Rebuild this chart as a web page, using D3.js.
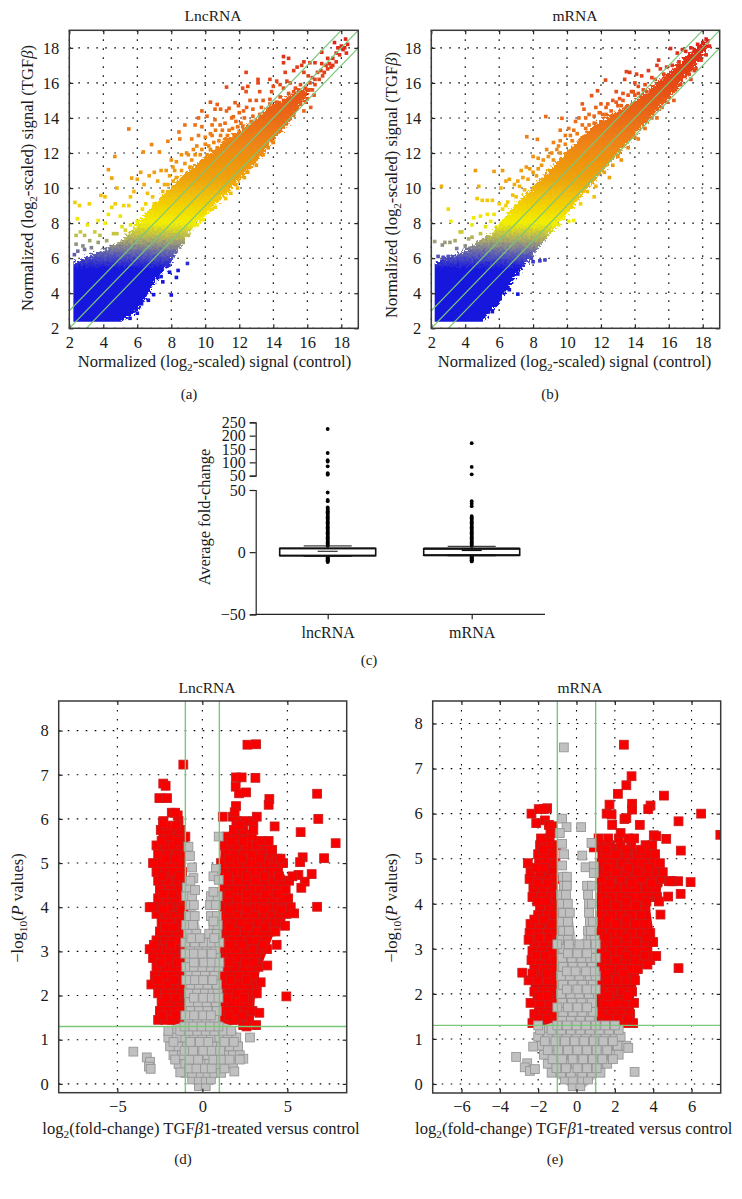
<!DOCTYPE html>
<html><head><meta charset="utf-8">
<script src="https://cdn.jsdelivr.net/npm/d3@7/dist/d3.min.js"></script>
<style>
html,body{margin:0;padding:0;background:#fff}
svg{display:block}
text{font-family:"Liberation Serif",serif;fill:#1a1a1a}
</style></head><body><svg id="c" width="742" height="1199"></svg>
<script>
// ---------- scatter (a) LncRNA ----------
const ticksScatter = [2,4,6,8,10,12,14,16,18];
const colorDomain = [2,5.4,6.2,7,8,9,10.5,13,15,18];
const colorRange = ["#1414dc","#1616dc","#5a5ab6","#a6a66c","#f2f000","#f2d204","#eea40e","#ee7c14","#e85a18","#e02818"];
const lncCloudMin = [2.24,2.38];
const mrnaCloudMin = [2.2,2.38];
const lncCloud = [[2,5.7],[2.6,5.9],[3,6.1],[4,6.5],[5,7],[5.6,7.5],[6,8],[6.5,8.6],[7,9.1],[8,10.1],[8.5,10.6],[9,11],[10,11.8],[11,12.6],[12,13.3],[13,14],[14,14.8],[15,15.3],[15.8,15.6],[16.1,15.8],[16.1,15.4],[15.5,14.6],[15,13.8],[14,12.7],[13,11.5],[12,10.4],[11,9.4],[10,8.4],[9,7.4],[8.5,6.6],[8,5.8],[7.4,5.1],[7,4.6],[6.5,3.7],[6,3],[5.5,2.7],[5,2.3],[4.8,2.1],[2,2.1]];
const lncSparse = [[2.33,9.18],[2.6,9.0],[3.18,9.1],[2.47,8.25],[3.06,7.9],[3.7,8.15],[3.86,9.58],[4.1,9.5],[4.5,10.57],[4.3,11.05],[4.68,11.8],[5.5,13.37],[4.8,10.0],[5.67,10.57],[6.84,12.48],[6.35,12.06],[7.3,12.06],[7.8,12.67],[8.8,13.6],[8.45,13.2],[2.4,7.3],[2.65,7.5],[2.9,7.3],[2.4,6.8],[2.8,6.7],[3.2,7.0],[3.5,7.5],[3.8,7.3],[4.1,8.0],[4.3,8.5],[4.5,8.9],[4.7,9.1],[5,8.4],[5.1,7.8],[4.6,7.4],[5.2,9],[5.5,9],[5.6,9.5],[5.8,9.8],[6,10.5],[6.2,10.9],[6.4,10.2],[6.7,10.7],[7,10.9],[7.2,10.4],[6.6,9.7],[6.9,9.5],[7.4,11],[7.7,11],[8,11.6],[8.3,11.5],[8.6,11.9],[8.2,11],[8.5,12.8],[9,11.9],[9.3,12.2],[9.2,12.8],[9.6,13],[9.8,13.5],[9.4,13.6],[10,12.9],[10.3,13.1],[10.6,13.3],[10.2,12.4],[10.8,12.7],[11,13.3],[11.3,13],[11.1,12.6],[11.6,13.4],[11.9,13.5],[12.1,13.7],[9.6,14],[9.8,14.4],[10.1,14.1],[10.3,14.9],[10.7,14.77],[10.57,14.5],[10.9,14.5],[11.4,14.55],[11.75,14.87],[11.95,14.7],[12.25,14.4],[12.63,15],[13,15],[13.4,15],[13.8,15.06],[12.43,14.6],[12.8,14.5],[12,14.3],[11.55,14],[11.25,14.4],[10.57,13.9],[11.16,13.7],[11.65,14.07],[10.87,13.6],[10.4,13.6],[12.4,16.6],[11.25,15.76],[12.2,15.7],[12.5,15.8],[12.4,15.5],[13.1,16.2],[13.1,16],[13.8,16.2],[14.2,16.1],[14.4,15.9],[14,15.8],[13.9,15.5],[13.2,15.5],[14.8,16.1],[14.6,15.7],[15,16],[15.3,15.7],[15.8,16.6],[16.06,16.4],[16.45,16.2],[16.45,15.9],[16.16,16],[15.6,15.9],[14.6,17.5],[14.9,17.4],[14.6,17.15],[14.7,16.6],[15.2,16.7],[15.4,16.9],[15.67,17],[15.8,17.2],[16.15,17.15],[16.45,17.15],[16.8,16.7],[17,16.6],[16.85,17.1],[17.1,17],[17.2,17.4],[17.5,17.4],[17.7,17.7],[16.85,17.75],[17.6,18.3],[17.8,18],[18,18.1],[18.25,18.5],[18.37,18.2],[18.1,17.9],[17.4,16.9],[17.7,17.2],[17.2,16.8],[16.3,15.6],[16,15.1],[15.9,14.9],[15.6,14.8],[16.4,15.3],[15.2,14.2],[14.5,13.5],[14,12.6],[14,12.9],[13.5,12.5],[13.4,11.9],[13,11.3],[12.6,11.2],[12.3,10.6],[11.8,10.2],[11.5,9.7],[10.8,9.4],[10.4,8.8],[9.9,8.2],[9.5,7.9],[9,7.3],[8.7,6.9],[8.3,6.6],[8.95,5.7],[8,3.9],[8.3,4.9],[8.4,5.3],[7.5,4.65],[7.2,4.9],[7.4,4.95],[6.75,4.57],[6.96,3.92],[6.25,3.4],[6.65,3.6],[5.57,2.57],[6,2.86],[6.37,3.9],[7.85,5.6],[7.9,5.2],[7.7,5.7],[6.85,5.3],[5.9,3.4],[5.3,2.9],[5.7,3.0],[2.3,6.2],[2.5,6.4],[2.9,6.5],[3.3,6.6],[3.7,6.9],[4.2,7.0],[4.8,7.4],[5.3,7.6],[5.6,7.9],[6,8.1],[6.3,8.8],[6.5,9.1],[7,9.1],[7.5,9.8],[7.8,10.2],[8.1,10.4],
[7.6,10.2],[7.9,10.7],[8.1,11.2],[8.3,10.6],[8.6,11],[8.8,11.4],[8.9,12.0],[9.1,11.2],[9.2,11.6],[9.4,11.9],[9.5,12.4],[9.7,11.9],[9.8,12.2],[10,12.5],[10.1,11.9],[10.3,12.2],[10.5,12.6],[10.4,13],[10.7,12.3],[10.9,13],[11,12.4],[11.2,12.8],[11.4,13.3],[11.5,12.7],[11.7,13],[11.8,13.8],[12,13.2],[12.2,13.5],[12.3,14],[12.5,13.4],[12.7,13.8],[12.8,14.1],[13,13.7],[13.2,14.2],[13.3,14.6],[13.5,14.1],[13.7,14.5],[13.8,14.8],[14,14.4],[14.2,14.9],[14.4,15.2],[14.6,15.0],[14.9,15.4],[15.2,15.5],[15.5,15.6],[8.4,10.3],[8.75,10.6],[9.3,10.9],[9.6,11.2],[10.2,11.6],[10.6,11.9],[11.2,12.3],[11.8,12.7],[12.4,13.2],[13.1,13.5],[13.6,13.9],[14.3,14.6],[15.1,14.8],[15.7,15.4],[16.2,14.6],[15.8,14.4],[15.3,14.5],[14.7,13.7],[14.3,13.2],[13.7,12.3],[13.1,11.9],[12.5,10.9],[11.9,10],[11.2,9.4],[10.6,8.9],[16.7,16.2],[16.3,16.3],[16.9,16.4],[17.3,17.1],[17.5,17],[17.9,17.6],[18.2,18],[18.3,17.7],[16.6,16.6],[16.1,15.6],[15.9,15.7]];
// ---------- scatter (b) mRNA ----------
const mrnaCloud = [[2,5.5],[2.5,5.9],[3.5,6.2],[4.5,6.8],[5.5,7.4],[6,8],[7,9.1],[8,10.1],[9,11.1],[10,12.1],[11,13.1],[12,13.9],[13,14.4],[14,15],[15,15.8],[16,16.6],[17,17.5],[18,18.3],[18.35,18.3],[18.3,18],[18,17.5],[17,16.3],[16,15.1],[15,14.1],[14,13],[13,11.9],[12,10.8],[11,9.7],[10,8.5],[9,7.4],[8.5,6.8],[8,6.2],[7,5],[6,3.5],[5,2.3],[4.8,2.1],[2,2.1]];
const mrnaSparse = [[2.6,10.1],[3,8.8],[3.15,8.1],[2.2,6.95],[2.8,6.9],[3.4,7.0],[3.1,6.9],[2.65,6.75],[3.7,7.5],[3.8,7.5],[4.4,7.2],[4.6,11.0],[4.8,10.1],[5.7,10.95],[6.2,11],[6.6,10.5],[5,9.3],[4.7,9.4],[5.3,9.3],[5.6,9.3],[6.1,10],[6.4,10.4],[6,9.1],[5.3,8.5],[4.9,8.4],[4.4,7.9],[4.5,8.3],[5.7,8.5],[6.9,10.2],[7.2,10.1],[7.8,11.1],[7.3,11],[7.6,11.2],[8,11.8],[8.3,11.7],[8.5,11.3],[7.63,12.93],[8.25,12.78],[8.75,14.08],[9.7,13.98],[9.2,12.6],[8.8,12.2],[9.5,12.4],[9.9,13],[10.1,13.4],[9.6,13.3],[10.5,13.8],[10.9,14.8],[11,14.5],[11.3,14.2],[10.7,14],[11.45,15.27],[11.8,15.55],[12.27,16.16],[11.7,14.6],[12,14.8],[12.3,14.6],[12.6,14.4],[12.9,14.9],[13.1,15.1],[12.9,15.5],[13.4,16.2],[13.5,16.64],[13.7,16.6],[14.1,16.5],[14.8,16.7],[15.4,17.3],[16.1,17.96],[15.3,17],[15.87,16.9],[14,16],[14.2,15.8],[14.6,15.9],[15,16.3],[15.5,16.8],[14.4,16.4],[13.8,15.5],[13.3,15.4],[16.5,17.7],[16.8,17.9],[17.3,18],[17.7,18.2],[18.2,18.5],[8.7,5.9],[8.4,5.85],[8,5.8],[7.9,6],[7.1,3.95],[6.4,4.3],[6.6,4.2],[5.8,3.4],[5.6,2.95],[7.1,5.1],[10.4,8.15],[10.1,8.1],[9.5,7.9],[11.6,9.5],[12.5,10.6],[13.2,11.6],[14.2,12.8],[15.3,14],[16.3,15],[17.3,16.2],[17.5,16.7],[2.4,6.1],[2.7,6.05],[3,6.1],[3.5,6.55],[4,6.7],[4.2,7.1],[4.9,7.4],[5.2,7.8],[5.5,8.1],[6.2,8.8],[6.4,9],[7,9.5],[7.5,9.9],[8.2,10.7],[9.2,11.6],[9.6,12],[10.3,12.7],[11.1,13.4],[11.6,13.7],[12.3,14.2],[13.2,14.7],[14,15.3],[14.7,15.5],
[6.5,9.2],[6.8,9.6],[7.1,10.4],[7.4,10.6],[7.7,10.5],[8,10.9],[8.3,11.1],[8.6,11.6],[8.9,11.8],[9.1,12],[9.4,12.2],[9.6,12.7],[9.9,12.5],[10.2,13],[10.4,13.3],[10.6,13.1],[10.9,13.6],[11.1,14],[11.3,13.6],[11.6,14.1],[11.9,14.3],[12.1,14.2],[12.4,14.8],[12.7,15],[13,14.7],[13.3,15],[13.6,15.3],[13.9,15.5],[14.2,15.4],[14.5,15.6],[15.2,16.2],[15.7,16.5],[16.2,17],[16.6,17.2],[17,17.8],[17.5,17.9],[18,18.3],[18.3,18.4],[18.4,18.1],[18.2,17.6],[17.9,17.3],[17.6,16.8],[17.2,16.5],[16.7,15.9],[16.4,15.6],[15.9,14.9],[15.6,14.6],[15,14],[14.6,13.4],[14,12.9],[13.6,12.3],[13,11.8],[12.7,11.3],[12.2,10.9],[11.7,10.1],[11.2,9.8],[10.8,9.1]];
// ---------- box plot (c) ----------
const boxCategories = ["lncRNA","mRNA"];
const boxTop = [3,2.8];
const boxBottom = [-2.8,-2.5];
const whiskerHigh = [5,4.7];
const whiskerLow = [-3,-2.6];
const boxMedian = [0.7,1.5];
const upperTicks = [50,100,150,200,250];
const lowerTicks = [-50,0,50];
const lncOutHigh = [225,135,108,103,85,60,57,54];
const mrnaOutHigh = [172,83,55];
const lncOutLow = [48,42,41,36,35,34,33,32,31,30,29,28,27,26,25,24,23,22,21,20,19,18,17,16,15,14,13,12,11,10,9,8,7,6,5,-4,-4.5,-5,-5.5,-6,-6.5,-7,-7.5,-8];
const mrnaOutLow = [41,39,37,29,28,27,26,25,24,23,22,21,20,19,18,17,16,15,14,13,12,11,10,9,8,7,6,5,-3.5,-4,-4.5,-5,-5.5,-6,-6.5,-7,-7.5];
// ---------- volcano (d) LncRNA ----------
const volcanoDTicksX = [-5,0,5];
const volcanoTicksY = [0,1,2,3,4,5,6,7,8];
const dRedPolyL = [[-1,1.3],[-2,1.35],[-2.5,1.6],[-2.6,2],[-2.9,2.4],[-2.9,3.1],[-2.6,3.6],[-2.8,4],[-2.5,4.5],[-2.7,5],[-2.5,5.7],[-1.9,5.8],[-1.4,5.8],[-1,5.4]];
const dRedPolyR = [[1,1.3],[3,1.4],[3.1,2],[3.4,2.6],[3.9,3.1],[4.3,3.5],[5.1,3.9],[5,4.6],[4.5,5],[3.8,5.4],[3,5.7],[2,5.9],[1.3,5.6],[1,5]];
const dGrayPoly = [[-0.2,-0.1],[0.3,-0.1],[1,0.2],[1.8,0.5],[2.1,1.1],[1.9,1.3],[1.05,1.4],[1.05,3.4],[0.7,3.7],[0.5,3.6],[0.25,3.3],[-0.1,3.4],[-0.3,3.9],[-0.7,4.1],[-1,3.6],[-1.05,1.4],[-2,1.3],[-2.2,1.05],[-1.8,0.6],[-1.1,0.25]];
const dRedRows = [
[1.45,[-2.6,-2.2,-1.8,-1.3,1.3,1.75,2.2,2.75]],[1.65,[-2.5,-2.05,-1.6,-1.2,1.5,1.95,2.5,2.95]],[1.85,[-2.4,-1.9,-1.4,1.25,1.7,2.2,2.7]],
[2.05,[-2.6,-2.2,-1.7,-1.25,1.15,1.55,2.05,2.55,2.95]],[2.25,[-3,-2.5,-2,-1.5,-1.15,1.4,1.85,2.35,2.8,3.2]],[2.45,[-2.8,-2.3,-1.8,-1.3,1.2,1.65,2.15,2.6,3.05]],
[2.65,[-2.7,-2.2,-1.7,-1.2,1.45,1.9,2.4,2.9,3.3]],[2.85,[-2.9,-2.4,-1.9,-1.4,1.2,1.7,2.2,2.7,3.15]],[3.05,[-3.1,-2.6,-2.1,-1.6,-1.15,1.45,1.95,2.5,3,3.45,3.8]],
[3.25,[-2.7,-2.2,-1.7,-1.2,1.2,1.7,2.2,2.75,3.25,3.7]],[3.45,[-2.5,-2,-1.5,1.45,1.95,2.5,3,3.5,4,4.3]],[3.65,[-2.4,-1.9,-1.3,1.2,1.75,2.25,2.8,3.3,3.8,4.25,4.6]],
[3.85,[-2.7,-2.1,-1.6,-1.1,1.5,2,2.55,3.05,3.55,4.05,4.5,4.95]],[4,[-3.1,-2.5,-2,-1.4,1.25,1.8,2.3,2.85,3.35,3.85,4.4,4.85,5.2]],[4.2,[-2.6,-2.1,-1.6,-1.1,1.5,2.05,2.6,3.1,3.6,4.15,4.65,5.05]],
[4.4,[-2.5,-1.9,-1.4,1.25,1.8,2.35,2.85,3.4,3.9,4.45,4.9]],[4.6,[-2.6,-2.1,-1.5,-1.1,1.5,2.1,2.6,3.15,3.65,4.2,4.7,5.1]],[4.8,[-2.7,-2.2,-1.7,-1.2,1.25,1.8,2.35,2.9,3.4,3.95,4.45]],
[5,[-2.9,-2.4,-1.8,-1.3,1.1,1.6,2.1,2.65,3.15,3.7,4.25,4.75]],[5.2,[-2.6,-2.1,-1.5,-1,1.35,1.85,2.4,2.9,3.5,4.05]],[5.4,[-2.7,-2.2,-1.7,-1.1,1.3,2,2.65,3.2,3.8]],
[5.6,[-2.3,-1.9,-1.4,-1,1.45,2.1,2.75]],[5.75,[-2.45,-2,-1.3,1.85,2.4,3]],[5.95,[-2.3,-1.4,2,2.5,3]],
[1.55,[-2.35,-1.55,1.55,2.35]],[1.95,[-2.15,-1.55,1.45,2.45]],[2.35,[-2.65,-1.65,1.65,2.6]],[2.75,[-2.45,-1.5,1.55,2.5,3.05]],[3.15,[-2.85,-1.85,1.6,2.35,3.55]],[3.55,[-2.2,-1.65,1.6,2.7,3.65]],[3.95,[-2.3,-1.25,1.55,2.6,3.6,4.65]],[4.3,[-2.3,-1.75,1.55,2.6,3.7,4.4]],[4.7,[-2.35,-1.35,1.5,2.6,3.65,4.5]],[5.1,[-2.15,-1.6,1.55,2.35,3.4,4.4]],[5.5,[-2.4,-1.45,1.7,2.4,3.5]],[5.85,[-2.1,-1.55,2.2]]];
const dRedExtras = [[2.65,7.68],[3.16,7.69],[1.98,6.94],[2.31,6.94],[3.12,6.93],[1.96,6.73],[2.16,6.58],[2.57,6.6],[3.94,6.45],[3.9,6.32],[6.75,6.57],[6.82,6],[1.98,6.29],[1.2,6.05],[3.2,6.05],[4.25,5.83],[5.78,5.7],[7.84,5.45],[7.16,5.11],[5.9,5.13],[5.75,5.02],[6.43,4.75],[6.02,4.58],[5.82,4.44],[6.75,4.01],[4.94,1.98],[3.35,1.61],[3.16,1.33],[5.4,3.86],[4.86,3.58],[4.37,3.15],[5.65,4.73],[5.3,4.7],[3.82,2.68],[3.43,2.3],[3.2,2.05],[2.4,1.33],[2.6,1.3],[-1.12,7.23],[-2.3,6.8],[-2.16,6.75],[-2.53,6.47],[-2.08,6.47],[-1.8,6.14],[-1.45,6.08],[-1.6,6.14],[-2.3,5.9],[-2.98,4],[1.8,6.05],[1.9,6.15],[4.6,5.1],[4.1,5.3],[3.9,5.5]];
const dGrayRows = [
[-0.05,[-0.2,0.2]],[0.1,[-0.6,-0.2,0.2,0.5]],[0.25,[-1,-0.6,-0.1,0.3,0.7,1.1]],[0.45,[-1.4,-1,-0.5,0,0.4,0.9,1.4,1.8]],[0.65,[-1.7,-1.2,-0.7,-0.2,0.3,0.8,1.3,1.8,2.2]],
[0.85,[-1.9,-1.4,-0.9,-0.4,0.1,0.6,1.1,1.6,2.1]],[1.05,[-2,-1.5,-1,-0.5,0,0.5,1,1.5,2]],[1.2,[-2,-1.3,-0.8,-0.3,0.2,0.7,1.2,1.7]],[1.45,[-0.8,-0.3,0.2,0.7]],[1.65,[-0.7,-0.2,0.3,0.85]],
[1.85,[-0.75,-0.25,0.25,0.8]],[2.05,[-0.8,-0.3,0.15,0.6,0.9]],[2.25,[-0.7,-0.2,0.3,0.85]],[2.45,[-0.8,-0.35,0.15,0.7]],[2.65,[-0.95,-0.5,0,0.5,0.95]],[2.85,[-0.75,-0.25,0.3,0.8]],
[3.05,[-0.7,-0.2,0.25,0.75]],[3.2,[-1,-0.45,0.1,0.55,1]],[3.4,[-0.85,-0.35,0.4,0.85]],[3.6,[-0.95,-0.55,0.65,0.9]],[3.8,[-0.8,-0.45,0.5,0.85]],[4.05,[-0.7,-0.5,0.45,0.8]],[4.25,[-0.95,-0.6,0.5,0.9]],
[0.35,[-0.8,-0.35,0.15,0.55,1.3]],[0.55,[-1.6,-0.75,-0.25,0.65,1.1,1.6]],[0.75,[-1.05,-0.55,0.05,0.55,1.05]],[0.95,[-1.7,-0.7,-0.15,0.35,1.3,1.85]],[1.3,[-0.55,-0.05,0.45,0.95,-1.05]],[1.55,[-0.5,0.05,0.5,-1]],[1.95,[-0.5,0.05,0.55,0.95]],[2.35,[-0.45,0.05,0.6,-0.95]],[2.75,[-0.5,0.1,0.55,1]],[2.95,[-1,-0.5,0,0.55]],[3.3,[-0.65,-0.15,0.7]]];
const dGrayExtras = [[0.96,5.6],[-0.73,5.16],[-0.82,5.37],[-4.06,0.73],[-3.27,0.6],[-3.08,0.5],[-3.14,0.39],[-3.04,0.34],[-1.3,0.26],[1.88,0.28],[2.41,0.57],[2.2,0.55],[2.8,1.05],[0.8,4.87],[0.65,4.7],[0.96,4.62],[-0.53,4.66],[0.65,4.35],[-0.92,4.45],[-0.43,4.39],[0.65,3.68],[-0.6,4.9],[-0.7,4.6]];
// ---------- volcano (e) mRNA ----------
const volcanoETicksX = [-6,-4,-2,0,2,4,6];
const eRedPolyL = [[-1,1.3],[-2.4,1.3],[-2.2,1.7],[-2.4,2.2],[-2.3,3],[-2.5,3.4],[-2,3.8],[-2.4,4.5],[-1.9,4.7],[-2,5.3],[-1.6,5.5],[-1,5.2]];
const eRedPolyR = [[1,1.3],[3,1.3],[3,2],[3.3,2.5],[3.9,2.8],[4,3.4],[3.8,4],[4.5,4.4],[4.3,4.9],[3.9,5.2],[2.5,5.3],[1.1,5.4]];
const eGrayPoly = [[-0.3,-0.1],[0.4,-0.1],[1.3,0.25],[2,0.6],[2.5,0.9],[2.2,1.25],[1.05,1.35],[1.05,3.2],[0.7,3.7],[0.3,3.2],[0,3.1],[-0.2,3.7],[-0.4,4.5],[-0.9,4.7],[-1,3],[-1,1.4],[-2.1,1.25],[-1.8,0.6],[-1.2,0.2]];
const eRedRows = [
[1.35,[-2.3,-1.85,-1.45,-1.2,1.5,1.95,2.55,2.95]],[1.55,[-2.2,-1.7,-1.25,1.3,1.8,2.3,2.8]],[1.8,[-2.4,-1.9,-1.4,-1.15,1.5,2.05,2.5,3]],[2.05,[-2.2,-1.75,-1.25,1.35,1.85,2.4,2.9]],[2.3,[-2.5,-2,-1.5,-1.15,1.6,2.1,2.6,3.05]],
[2.55,[-2.2,-1.7,-1.25,1.3,1.75,2.25,2.8,3.2]],[2.75,[-2.35,-1.9,-1.45,-1.1,1.55,2.05,2.55,3.05,3.5,3.85]],[2.95,[-2.3,-1.8,-1.3,1.3,1.8,2.3,2.85,3.3,3.7]],[3.15,[-2.2,-1.7,-1.2,1.55,2.05,2.55,3.1,3.6,4]],[3.35,[-2.45,-2,-1.5,-1.1,1.3,1.8,2.3,2.85,3.35,3.85]],
[3.55,[-2.4,-1.9,-1.35,1.55,2.05,2.55,3.05,3.6]],[3.75,[-2,-1.5,-1.15,1.3,1.8,2.3,2.85,3.35]],[3.95,[-1.9,-1.4,1.55,2.05,2.55,3.1,3.6]],[4.15,[-2.3,-1.85,-1.35,-1.05,1.3,1.8,2.3,2.85,3.4,3.85,4.2]],[4.35,[-2.25,-1.75,-1.25,1.5,2.05,2.55,3.1,3.65,4.15]],
[4.55,[-2.45,-2,-1.55,-1.1,1.3,1.8,2.3,2.85,3.4,3.9,4.4]],[4.7,[-2.4,-1.9,1.55,2.05,2.6,3.15,3.7,4.2,4.5]],[4.9,[-1.95,-1.5,-1.1,1.3,1.85,2.4,2.95,3.5,4,4.35]],[5.1,[-2,-1.6,-1.2,1.5,2.05,2.6,3.15,3.65,4.1]],[5.3,[-1.9,-1.5,-1.05,1.25,1.75,2.3,2.85,3.6,3.95]],[5.45,[-1.85,-1.4,1.15,1.65,2.2,2.7,3]],
[1.45,[-2,-1.55,1.65,2.15,2.7]],[1.95,[-1.95,-1.5,1.65,2.65]],[2.45,[-2.3,-1.55,1.5,2.45]],[2.85,[-2.1,-1.65,1.55,2.6,3.55]],[3.25,[-1.95,-1.45,1.55,2.6,3.65]],[3.65,[-2.2,-1.7,1.6,2.6]],[4.05,[-2.05,-1.6,1.55,2.6,3.65]],[4.45,[-2.05,-1.5,1.75,2.85,3.9]],[4.8,[-2.15,-1.7,1.6,2.7,3.75]],[5.2,[-1.75,1.55,2.6,3.35]]];
const eRedExtras = [[2.47,7.53],[2.87,6.83],[2.6,6.63],[2.16,6.44],[4.56,6.4],[2.9,6.22],[2.9,6.09],[1.72,6.2],[3.86,6.18],[3.74,6.1],[6.5,6],[1.57,6],[1.83,5.98],[2.5,5.88],[1.86,5.75],[3.3,5.75],[5.32,5.83],[4.03,5.52],[4.16,5.5],[4.68,5.44],[7.5,5.53],[5.44,5.18],[2.3,5.57],[2.6,5.9],[5.95,4.48],[5.3,4.5],[4.82,4.5],[5,4.5],[4.9,4.5],[5.43,4.22],[4.78,4.16],[4.38,3.76],[4.3,4.05],[4.16,2.84],[5.32,2.57],[3.7,2.65],[0.9,5.25],[-2.35,6],[-1.97,6.1],[-1.53,6.12],[-1.7,6.1],[-2.1,5.79],[-1.65,5.85],[-1.44,5.75],[-1.27,5.72],[-2.54,4.9],[-2.83,2.47],[-1.36,5.57],[-2.5,3.2]];
const eGrayRows = [
[-0.05,[-0.2,0.2]],[0.1,[-0.6,-0.2,0.3,0.6]],[0.25,[-1.3,-0.8,-0.3,0.3,0.8,1.25]],[0.45,[-1.5,-1,-0.5,0.1,0.6,1.1,1.6]],[0.65,[-1.7,-1.2,-0.7,-0.2,0.3,0.8,1.3,1.85,2.2]],
[0.85,[-1.85,-1.35,-0.85,-0.35,0.15,0.65,1.15,1.65,2.15,2.6]],[1.05,[-2,-1.5,-1,-0.5,0,0.5,1,1.5,2,2.3]],[1.2,[-1.9,-1.3,-0.8,-0.3,0.2,0.7,1.2,1.7,2.2]],[1.4,[-0.75,-0.3,0.2,0.7]],[1.6,[-0.7,-0.2,0.3,0.85]],
[1.8,[-0.75,-0.25,0.25,0.8]],[2,[-0.8,-0.3,0.15,0.65]],[2.2,[-0.7,-0.2,0.3,0.85]],[2.4,[-0.8,-0.35,0.15,0.7,1]],[2.6,[-0.7,-0.2,0.3,0.8]],[2.8,[-0.75,-0.25,0.25,1]],
[3,[-0.7,-0.2,0.3,0.8]],[3.2,[-0.8,-0.45,0.75,0.95]],[3.4,[-0.7,-0.4,0.6,0.75]],[3.6,[-0.75,-0.45,0.7,0.85]],[3.8,[-0.7,-0.35,0.65]],[4,[-0.75,-0.45,0.65,0.8]],[4.2,[-0.8,-0.55,0.6]],[4.4,[-0.65,-0.5,0.55,0.8]],[4.6,[-0.7,-0.5]],
[0.35,[-1.05,-0.55,0.05,0.55,1.05]],[0.55,[-1.25,-0.75,-0.2,0.35,0.85,1.35,1.9]],[0.75,[-1.5,-0.95,-0.45,0.05,0.55,1.05,1.6]],[0.95,[-1.65,-1.1,-0.6,-0.1,0.4,0.9,1.4,1.9]],[1.3,[-1,-0.5,0,0.5,1,-2,1.5,2]],[1.7,[-0.45,0.05,0.55,-1]],[2.1,[-0.5,0.05,0.55,1]],[2.5,[-0.5,-0.05,0.5,0.95]],[2.9,[-0.45,0.05,0.55]],[3.1,[-1,0.5,0.15,-0.4,1]]];
const eGrayExtras = [[-0.66,7.47],[-0.75,5.89],[-0.52,5.7],[0.24,5.7],[-0.87,5.57],[-0.75,5.33],[0.3,5.07],[0.78,5.35],[0.47,4.81],[0.9,4.83],[0.9,4.68],[-0.65,5.1],[-0.75,4.85],[-3.15,0.6],[-2.57,0.46],[-2.7,0.37],[-2.43,0.29],[-2.17,0.33],[3.03,0.27],[-2.26,0.83],[2.7,0.8]];

const svg = d3.select("#c");
const GREEN = "#7ac77a", FRAME = "#3a3a3a", TICK_FS = 16.5, LAB_FS = 16.6, CAP_FS = 15;
const color = d3.scaleLinear().domain(colorDomain).range(colorRange);

// rough edge and dithered look of the dense part of the clouds
const rough = svg.append("filter").attr("id","rough").attr("x","-5%").attr("y","-5%").attr("width","110%").attr("height","110%");
rough.append("feTurbulence").attr("type","fractalNoise").attr("baseFrequency",0.42).attr("numOctaves",2).attr("seed",7).attr("result","n");
rough.append("feDisplacementMap").attr("in","SourceGraphic").attr("in2","n").attr("scale",11).attr("xChannelSelector","R").attr("yChannelSelector","G");

function rich(g, parts, size, attrs){
  const t = g.append("text").attr("font-size", size);
  Object.entries(attrs).forEach(([k,v])=>t.attr(k,v));
  parts.forEach(p=>{
    const s = t.append("tspan").text(p.t);
    if(p.it) s.attr("font-style","italic");
    if(p.sub) s.attr("font-size", size*0.68).attr("dy", size*0.24);
    if(p.up) s.attr("dy", -size*0.24);
  });
  return t;
}
function frame(id, box, x, y, xt, yt){
  const g = svg.append("g");
  g.append("clipPath").attr("id",id).append("rect").attr("x",box.l).attr("y",box.t).attr("width",box.r-box.l).attr("height",box.b-box.t);
  const dots = "1.6 7.4";
  g.append("g").selectAll("line").data(xt).join("line").attr("x1",d=>x(d)).attr("x2",d=>x(d)).attr("y1",box.t).attr("y2",box.b).attr("stroke","#000").attr("stroke-width",1.1).attr("stroke-dasharray",dots);
  g.append("g").selectAll("line").data(yt).join("line").attr("x1",box.l).attr("x2",box.r).attr("y1",d=>y(d)).attr("y2",d=>y(d)).attr("stroke","#000").attr("stroke-width",1.1).attr("stroke-dasharray",dots);
  return g;
}
function axes(box, x, y, xt, yt, fs){
  const ax = svg.append("g").attr("transform",`translate(0,${box.b})`).call(d3.axisBottom(x).tickValues(xt).tickSize(-4).tickPadding(7.5).tickFormat(d3.format("d")));
  const ay = svg.append("g").attr("transform",`translate(${box.l},0)`).call(d3.axisLeft(y).tickValues(yt).tickSize(-4).tickPadding(10).tickFormat(d3.format("d")));
  const ax2 = svg.append("g").attr("transform",`translate(0,${box.t})`).call(d3.axisTop(x).tickValues(xt).tickSize(-4).tickFormat(""));
  const ay2 = svg.append("g").attr("transform",`translate(${box.r},0)`).call(d3.axisRight(y).tickValues(yt).tickSize(-4).tickFormat(""));
  [ax,ay,ax2,ay2].forEach(a=>{a.select(".domain").remove();a.selectAll("line").attr("stroke","#222").attr("stroke-width",1.2);a.selectAll("text").attr("font-size",fs).attr("font-family",'"Liberation Serif",serif').attr("fill","#1a1a1a");});
  svg.append("rect").attr("x",box.l).attr("y",box.t).attr("width",box.r-box.l).attr("height",box.b-box.t).attr("fill","none").attr("stroke",FRAME).attr("stroke-width",1.5);
}

function scatter(id, box, cloud, cloudMin, sparse, title, titleX, xlabX, ylabX, ylabY, capX, cap){
  const x = d3.scaleLinear().domain([2,19]).range([box.l,box.r]);
  const y = d3.scaleLinear().domain([2,19]).range([box.b,box.t]);
  frame(id, box, x, y, ticksScatter, ticksScatter);
  const grad = svg.append("linearGradient").attr("id",id+"g").attr("gradientUnits","userSpaceOnUse").attr("x1",0).attr("x2",0).attr("y1",y(2)).attr("y2",y(19));
  colorDomain.concat([19]).forEach(v=>grad.append("stop").attr("offset",(v-2)/17).attr("stop-color",color(v)));
  svg.append("clipPath").attr("id",id+"f").append("rect").attr("x",x(cloudMin[0])).attr("y",box.t).attr("width",box.r-x(cloudMin[0])).attr("height",y(cloudMin[1])-box.t);
  const p = svg.append("g").attr("clip-path",`url(#${id})`);
  p.append("g").attr("clip-path",`url(#${id}f)`).append("path").attr("d",d3.line().x(d=>x(d[0])).y(d=>y(d[1]))(cloud)+"Z").attr("fill",`url(#${id}g)`).attr("filter","url(#rough)");
  p.selectAll("rect.pt").data(sparse).join("rect").attr("class","pt").attr("x",d=>x(d[0])-1.8).attr("y",d=>y(d[1])-1.8).attr("width",3.6).attr("height",3.6).attr("fill",d=>color(d[1]));
  [0,1,-1].forEach(o=>p.append("line").attr("x1",x(2)).attr("y1",y(2+o)).attr("x2",x(19)).attr("y2",y(19+o)).attr("stroke",GREEN).attr("stroke-width",1.2));
  axes(box,x,y,ticksScatter,ticksScatter,TICK_FS);
  svg.append("text").attr("x",titleX).attr("y",20.5).attr("text-anchor","middle").attr("font-size",15.6).text(title);
  rich(svg,[{t:"Normalized (log"},{t:"2",sub:1},{t:"-scaled) signal (control)",up:1}],LAB_FS,{x:xlabX,y:367,"text-anchor":"middle"});
  rich(svg,[{t:"Normalized (log"},{t:"2",sub:1},{t:"-scaled) signal (TGF",up:1},{t:"β",it:1},{t:")"}],LAB_FS,{"text-anchor":"middle",transform:`translate(${ylabX},${ylabY}) rotate(-90)`});
  svg.append("text").attr("x",capX).attr("y",399).attr("text-anchor","middle").attr("font-size",CAP_FS).text(cap);
}
scatter("pa",{l:69.3,r:358.3,t:30.3,b:328.3},lncCloud,lncCloudMin,lncSparse,"LncRNA",213,214.5,33,178,189,"(a)");
scatter("pb",{l:431.3,r:719.7,t:30.3,b:328.3},mrnaCloud,mrnaCloudMin,mrnaSparse,"mRNA",575,574.5,397,185,550,"(b)");

// box plot
(function(){
  const x = d3.scalePoint().domain(boxCategories).range([327.7,471.7]);
  const low = d3.scaleLinear().domain([-50,50]).range([614.3,490]);
  const up = d3.scaleLinear().domain([50,250]).range([475.7,422.3]);
  const gl = svg.append("g").attr("transform","translate(255.7,0)").call(d3.axisLeft(low).tickValues(lowerTicks).tickSize(6).tickPadding(4).tickFormat(d3.format("d")));
  const gu = svg.append("g").attr("transform","translate(255.7,0)").call(d3.axisLeft(up).tickValues(upperTicks).tickSize(6).tickPadding(4).tickFormat(d3.format("d")));
  const gx = svg.append("g").attr("transform","translate(0,614.3)").call(d3.axisBottom(x).tickSize(5).tickPadding(7));
  svg.append("line").attr("x1",255.7).attr("x2",545).attr("y1",614.3).attr("y2",614.3).attr("stroke","#222").attr("stroke-width",1.2);
  [gl,gu,gx].forEach(a=>{a.selectAll(".domain").attr("stroke","#222").attr("stroke-width",1.2);a.selectAll("line").attr("stroke","#222").attr("stroke-width",1.2);a.selectAll("text").attr("font-size",16).attr("font-family",'"Liberation Serif",serif').attr("fill","#1a1a1a");});
  gx.select(".domain").remove();
  const dot = (v,cat,scale)=>svg.append("circle").attr("cx",x(cat)).attr("cy",scale(v)).attr("r",1.9).attr("fill","#000");
  lncOutHigh.forEach(v=>dot(v,"lncRNA",up)); mrnaOutHigh.forEach(v=>dot(v,"mRNA",up));
  lncOutLow.forEach(v=>dot(v,"lncRNA",low)); mrnaOutLow.forEach(v=>dot(v,"mRNA",low));
  boxCategories.forEach((c,i)=>{
    const cx=x(c);
    const stroke=(y,hw,w)=>svg.append("line").attr("x1",cx-hw).attr("x2",cx+hw).attr("y1",low(y)).attr("y2",low(y)).attr("stroke","#111").attr("stroke-width",w);
    svg.append("rect").attr("x",cx-48).attr("width",96).attr("y",low(boxTop[i])).attr("height",low(boxBottom[i])-low(boxTop[i])).attr("fill","none").attr("stroke","#111").attr("stroke-width",1.6);
    stroke(boxTop[i],48,i?2.4:1.8); stroke(boxBottom[i],48,1.8);
    stroke(whiskerHigh[i],24,1); stroke(whiskerLow[i],24,1.6); stroke(boxMedian[i],10,i?1.6:1);
  });
  svg.append("text").attr("font-size",16.4).attr("text-anchor","middle").attr("transform","translate(210,517) rotate(-90)").text("Average fold-change");
  svg.append("text").attr("x",369).attr("y",665).attr("text-anchor","middle").attr("font-size",CAP_FS).text("(c)");
})();

function volcano(id, box, xDom, yDom, xt, polys, gPoly, redRows, redEx, grayRows, grayEx, title, titleX, xlabX, ylabX, capX, cap){
  const x = d3.scaleLinear().domain(xDom).range([box.l,box.r]);
  const y = d3.scaleLinear().domain(yDom).range([box.b,box.t]);
  frame(id, box, x, y, xt, volcanoTicksY);
  const p = svg.append("g").attr("clip-path",`url(#${id})`);
  const line = d3.line().x(d=>x(d[0])).y(d=>y(d[1]));
  const S = 8.8;
  const flat = rows => rows.flatMap(r=>r[1].map(v=>[v,r[0]]));
  const sq = (data,fill,stroke)=>p.append("g").selectAll("rect").data(data).join("rect").attr("x",d=>x(d[0])-S/2).attr("y",d=>y(d[1])-S/2).attr("width",S).attr("height",S).attr("fill",fill).attr("stroke",stroke).attr("stroke-width",0.9);
  polys.forEach(q=>p.append("path").attr("d",line(q)+"Z").attr("fill","#f00000"));
  sq(flat(redRows).concat(redEx),"#f80000","#cc1c1c");
  p.append("path").attr("d",line(gPoly)+"Z").attr("fill","#bcbcbc");
  sq(flat(grayRows).concat(grayEx),"#c0c0c0","#969696");
  [-1,1].forEach(v=>p.append("line").attr("x1",x(v)).attr("x2",x(v)).attr("y1",box.t).attr("y2",box.b).attr("stroke",GREEN).attr("stroke-width",1.4));
  p.append("line").attr("x1",box.l).attr("x2",box.r).attr("y1",y(1.3)).attr("y2",y(1.3)).attr("stroke",GREEN).attr("stroke-width",1.4);
  axes(box,x,y,xt,volcanoTicksY,TICK_FS);
  svg.append("text").attr("x",titleX).attr("y",692.5).attr("text-anchor","middle").attr("font-size",15.6).text(title);
  rich(svg,[{t:"log"},{t:"2",sub:1},{t:"(fold-change) TGF",up:1,},{t:"β",it:1},{t:"1-treated versus control"}],16.6,{x:xlabX,y:1134,"text-anchor":"middle"});
  rich(svg,[{t:"−log"},{t:"10",sub:1},{t:"(",up:1},{t:"P",it:1},{t:" values)"}],16.6,{"text-anchor":"middle",transform:`translate(${ylabX},908) rotate(-90)`});
  svg.append("text").attr("x",capX).attr("y",1164).attr("text-anchor","middle").attr("font-size",CAP_FS).text(cap);
}
volcano("pd",{l:58.7,r:346.7,t:701,b:1092.7},[-8.45,8.49],[-0.2,8.67],volcanoDTicksX,[dRedPolyL,dRedPolyR],dGrayPoly,dRedRows,dRedExtras,dGrayRows,dGrayExtras,"LncRNA",207,201,23,183,"(d)");
volcano("pe",{l:432.7,r:720.7,t:701,b:1093},[-7.5,7.52],[-0.2,8.5],volcanoETicksX,[eRedPolyL,eRedPolyR],eGrayPoly,eRedRows,eRedExtras,eGrayRows,eGrayExtras,"mRNA",580,573.7,397,555,"(e)");
</script></body></html>
